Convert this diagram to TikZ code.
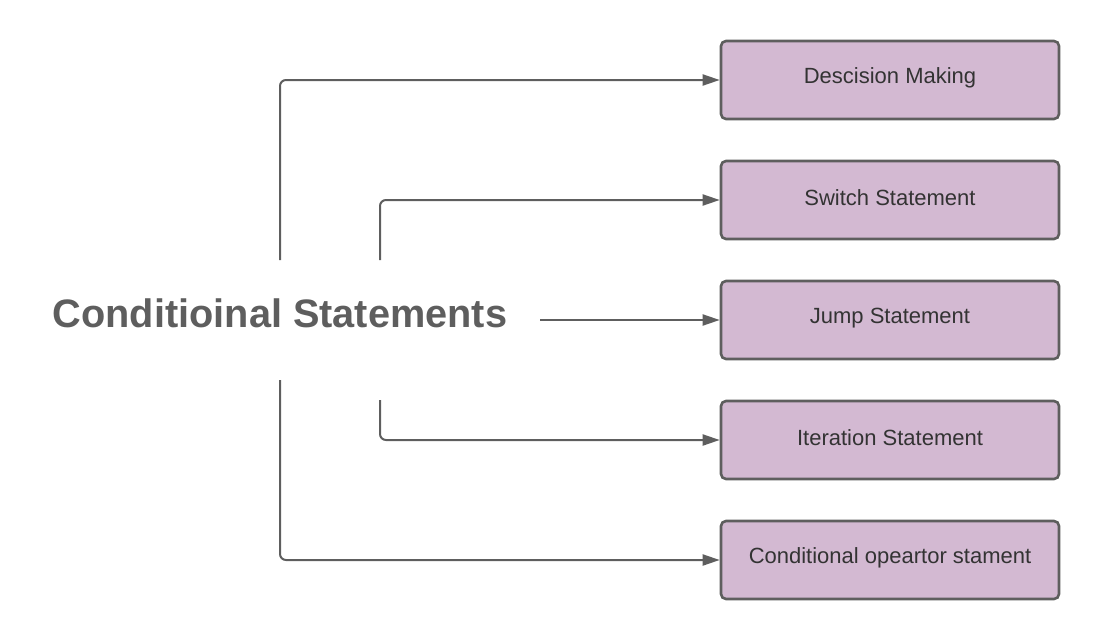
\documentclass[tikz,border=0pt]{standalone}
\usepackage{fontspec}
\setmainfont{Liberation Sans}
\usetikzlibrary{arrows.meta}
\definecolor{boxfill}{HTML}{D3B9D2}
\definecolor{linegray}{HTML}{5E5E5E}
\definecolor{txt}{HTML}{333333}
\begin{document}
\begin{tikzpicture}[x=1pt,y=-1pt,
  itembox/.style={draw=linegray, line width=2.6pt, fill=boxfill, rounded corners=5pt,
    minimum width=338pt, minimum height=78pt, inner sep=0pt,
    text=txt, font=\fontsize{22}{24}\selectfont},
  itemtext/.style={text=txt, font=\fontsize{22}{24}\selectfont, inner sep=0pt},
  conn/.style={draw=linegray, line width=2pt, rounded corners=6pt,
    -{Triangle[length=17pt,width=11pt]}}]
\useasboundingbox (0,0) rectangle (1100,640);
\node[font=\bfseries\fontsize{39.7}{44}\selectfont, text=linegray, anchor=base] (title) at (280,327) {Conditioinal Statements};
\node[itembox] (b1) at (890,80) {};
\node[itembox] (b2) at (890,200) {};
\node[itembox] (b3) at (890,320) {};
\node[itembox] (b4) at (890,440) {};
\node[itembox] (b5) at (890,560) {};
\node[itemtext] (t1) at ([yshift=2pt]b1.center) {Descision Making};
\node[itemtext] (t2) at ([yshift=2pt]b2.center) {Switch Statement};
\node[itemtext] (t3) at ([yshift=2pt]b3.center) {Jump Statement};
\node[itemtext] (t4) at ([yshift=2pt]b4.center) {Iteration Statement};
\node[itemtext] (t5) at ([yshift=2pt]b5.center) {Conditional opeartor stament};
\coordinate (s1) at (280,260);
\coordinate (s2) at (380,260);
\coordinate (s3) at (540,320);
\coordinate (s4) at (380,400);
\coordinate (s5) at (280,380);
\draw[conn] (s1) |- (b1.west);
\draw[conn] (s2) |- (b2.west);
\draw[conn] (s3) -- (b3.west);
\draw[conn] (s4) |- (b4.west);
\draw[conn] (s5) |- (b5.west);
\end{tikzpicture}
\end{document}
